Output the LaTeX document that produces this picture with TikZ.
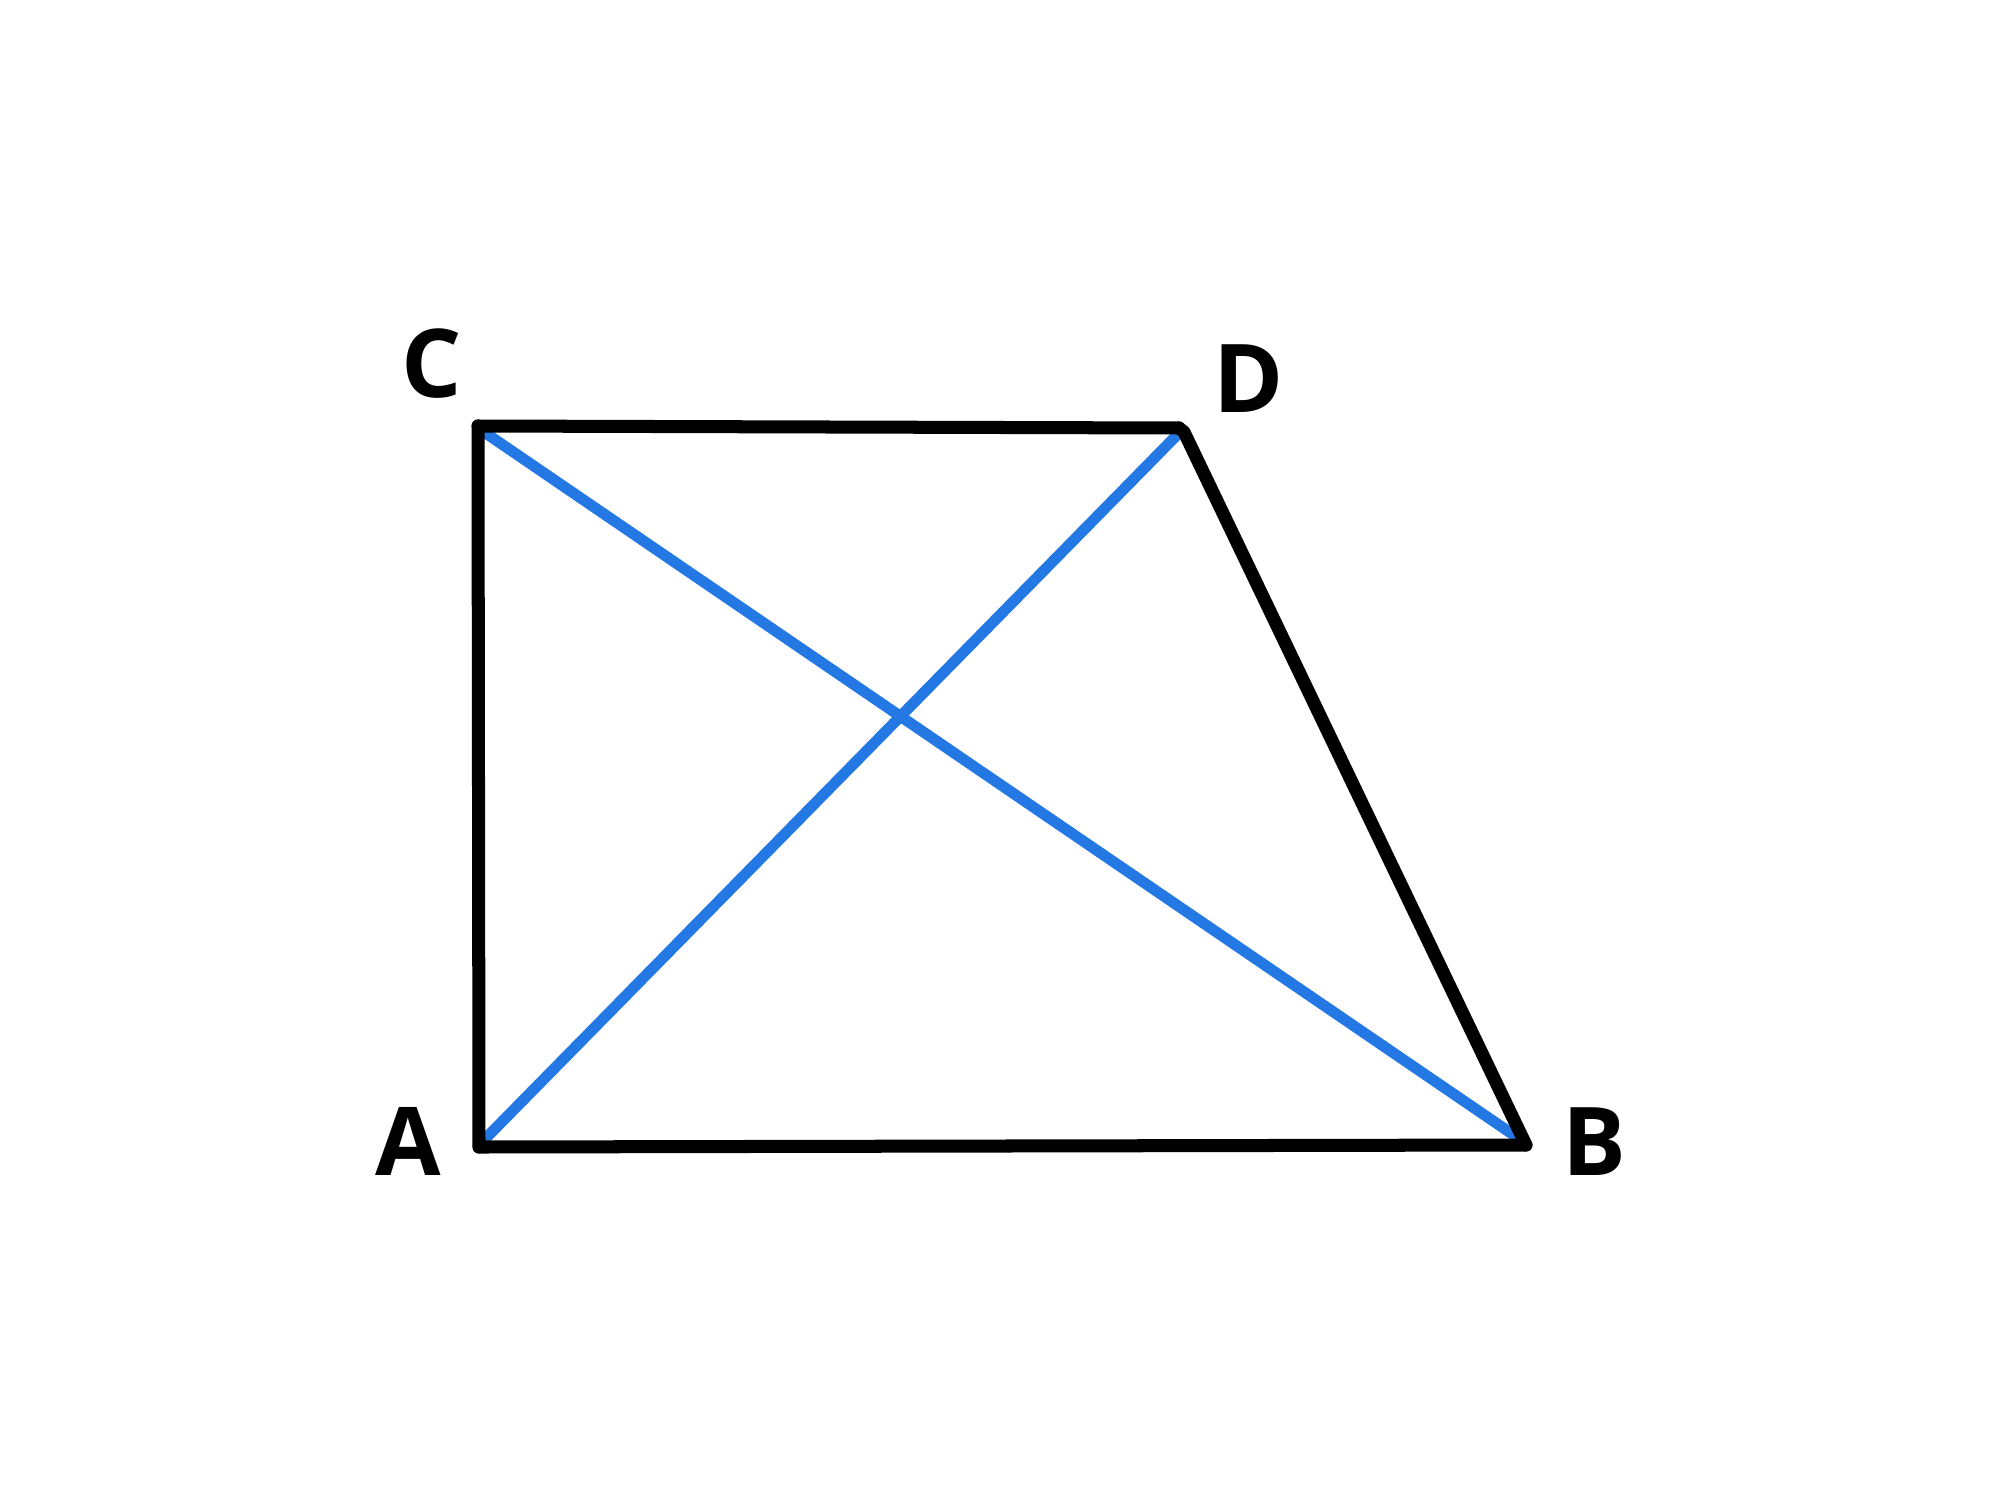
\documentclass[tikz,border=0pt]{standalone}
\usepackage{fontspec}
\setmainfont{Open Sans}
\begin{document}
\begin{tikzpicture}[x=0.01cm,y=-0.01cm,
  edge/.style={line width=3.7pt,line cap=round,line join=round,black},
  diag/.style={line width=3.1pt,color=diagblue},
  lbl/.style={font=\fontsize{27}{30}\selectfont\bfseries,inner sep=0pt,anchor=base}]
\definecolor{diagblue}{HTML}{2478E4}
\useasboundingbox (0,0) rectangle (2000,1500);
\fill[white] (0,0) rectangle (2000,1500);
\coordinate (A) at (479,1147);
\coordinate (B) at (1526,1145);
\coordinate (C) at (478,426);
\coordinate (D) at (1179,428);
\coordinate (D2) at (1184,432);
\coordinate (Ci) at (484,432);
\coordinate (Ai) at (484,1140);
\coordinate (Bi) at (1521,1140);
\coordinate (Di) at (1179,433);
% diagonals
\draw[diag] (Ci) -- (Bi);
\draw[diag] (Ai) -- (Di);
% edges
\draw[edge] (C) -- (D);
\draw[edge] (D) -- (D2) -- (B);
\draw[edge] (A) -- (B);
\draw[edge] (A) -- (C);
% labels
\node[lbl] (lA) at (408,1175) {A};
\node[lbl] (lB) at (1594,1175) {B};
\node[lbl] (lC) at (432,397) {C};
\node[lbl] (lD) at (1249,412) {D};
\end{tikzpicture}
\end{document}
